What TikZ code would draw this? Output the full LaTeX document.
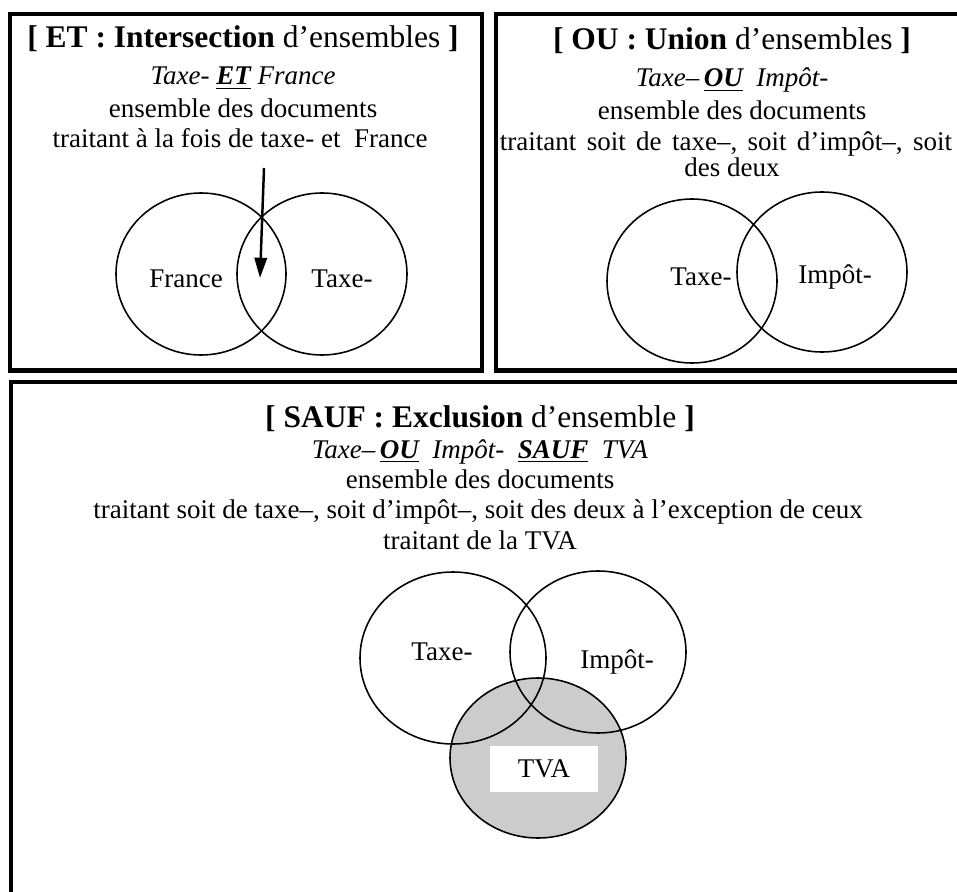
\documentclass[tikz,border=0pt]{standalone}
\usepackage{fontspec}
\setmainfont{Liberation Serif}
\usetikzlibrary{arrows.meta}

\tikzset{
  cadre/.style={line width=1.8pt},
  ens/.style={line width=0.7pt},
  titre/.style={font=\fontsize{14}{17}\selectfont, anchor=base},
  texte/.style={font=\fontsize{12}{14}\selectfont, anchor=base},
  nom/.style={font=\fontsize{12}{14}\selectfont},
}
\newcommand{\oper}[1]{\underline{\textbf{#1}}}

\begin{document}
\begin{tikzpicture}[x=0.4444pt,y=-0.4444pt]
		\clip (0,0) rectangle (957,892);
		% ET
		\draw[cadre] (10,14) rectangle (482,370.5);
		\node[titre] (titreET) at (243,48) {\textbf{[ ET : Intersection} d’ensembles \textbf{]}};
		\node[texte] (reqET) at (243,85) {\textit{Taxe- \oper{ET} France}};
		\node[texte] (ensET) at (243,118) {ensemble des documents};
		\node[texte] (defET) at (240,148) {traitant à la fois de taxe- et\ \ France};
		\draw[ens] (201,274) ellipse [x radius=85, y radius=81];
		\draw[ens] (322,274) ellipse [x radius=85, y radius=81];
		\node[nom] (france) at (186,279) {France};
		\node[nom] (taxeET) at (342,279) {Taxe-};
		\coordinate (haut) at (264,168);
		\coordinate (inter) at (260,278);
		\draw[line width=1.1pt, -{Triangle[length=9pt,width=5.5pt]}] (haut) -- (inter);
		% OU
		\draw[cadre] (495.7,14.3) rectangle (970,370.5);
		\node[titre] (titreOU) at (732,50) {\textbf{[ OU : Union} d’ensembles \textbf{]}};
		\node[texte] (reqOU) at (732,87) {\textit{Taxe–\,\oper{OU}\ \ Impôt-}};
		\node[texte] (ensOU) at (732,120) {ensemble des documents};
		\node[texte] (defOU) at (726,151) {\spaceskip=4.6pt traitant soit de taxe–, soit d’impôt–, soit};
		\node[texte] (deuxOU) at (732,177) {des deux};
		\draw[ens] (692,281) ellipse [x radius=85, y radius=82];
		\draw[ens] (822,272) ellipse [x radius=85, y radius=80];
		\node[nom] (taxeOU) at (701,277) {Taxe-};
		\node[nom] (impotOU) at (835,277) {Impôt-};
		% SAUF
		\draw[cadre] (11,382.3) rectangle (970,905);
		\node[titre] (titreSAUF) at (480,427) {\textbf{[ SAUF : Exclusion} d’ensemble \textbf{]}};
		\node[texte] (reqSAUF) at (480,458) {\textit{Taxe–\,\oper{OU}\ \ Impôt-\ \ \oper{SAUF}\ \ TVA}};
		\node[texte] (ensSAUF) at (480,488) {ensemble des documents};
		\node[texte] (defSAUF) at (478,518) {traitant soit de taxe–, soit d’impôt–, soit des deux à l’exception de ceux};
		\node[texte] (tvaSAUF) at (480,549) {traitant de la TVA};
		\fill[black!20] (538,758) ellipse [x radius=88, y radius=80];
		\draw[ens] (453,658) ellipse [x radius=93, y radius=86];
		\draw[ens] (598,652) ellipse [x radius=88, y radius=81];
		\draw[ens] (538,758) ellipse [x radius=88, y radius=80];
		\node[nom] (taxeSAUF) at (442,652) {Taxe-};
		\node[nom] (impotSAUF) at (617,662) {Impôt-};
		\node[nom, fill=white, minimum width=48pt, minimum height=20.5pt] (tva) at (544,769) {TVA};
\end{tikzpicture}
\end{document}
